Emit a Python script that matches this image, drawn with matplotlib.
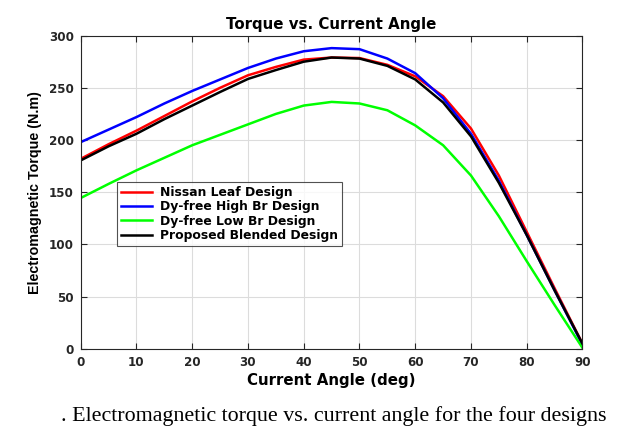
import matplotlib
matplotlib.use("Agg")
import matplotlib.pyplot as plt

# current angle in degrees, torque in N.m
angle = [0, 5, 10, 15, 20, 25, 30, 35, 40, 45, 50, 55, 60, 65, 70, 75, 80, 85, 90]
nissan_leaf = [182, 196, 209, 223, 237, 250, 262, 270, 277, 279, 278.5, 272, 261, 242, 211, 166, 112, 58, 5]
high_br = [198, 210, 222, 235, 247, 258, 269, 278, 285, 288, 287, 278, 264, 240, 206, 161, 109, 56, 4]
low_br = [144.5, 158, 171, 183, 195, 205, 215, 225, 233, 236.5, 235, 228.5, 214, 195, 166, 127, 84, 42, 1]
blended = [180.5, 194, 206, 220, 233, 246, 258.5, 267, 275, 279, 278, 271, 258, 236, 203.5, 159, 109, 56, 5]

labels = ["Nissan Leaf Design", "Dy-free High Br Design",
          "Dy-free Low Br Design", "Proposed Blended Design"]
colors = ["#ff0000", "#0000ff", "#00ff00", "#000000"]

plt.rcParams["font.family"] = ["DejaVu Sans"]
plt.rcParams["font.weight"] = "bold"

fig = plt.figure(figsize=(6.21, 4.34), dpi=100)
ax = fig.add_axes([0.130, 0.196, 0.808, 0.722])

for series, label, color in zip([nissan_leaf, high_br, low_br, blended], labels, colors):
    ax.plot(angle, series, color=color, lw=1.8, label=label)

ax.set_xlim(0, 90)
ax.set_ylim(0, 300)
ax.set_xticks(range(0, 91, 10))
ax.set_yticks(range(0, 301, 50))
ax.grid(True, color="#dcdcdc", lw=0.8)
ax.set_axisbelow(True)
ax.tick_params(direction="in", top=True, right=True, length=4, width=0.8,
               labelsize=8.6, colors="#262626", pad=5)
for lbl in ax.get_xticklabels() + ax.get_yticklabels():
    lbl.set_fontweight("bold")
for sp in ax.spines.values():
    sp.set_color("#262626")
    sp.set_linewidth(0.8)

ax.set_title("Torque vs. Current Angle", fontsize=10.8, fontweight="bold", pad=5)
ax.set_xlabel("Current Angle (deg)", fontsize=10.8, fontweight="bold", labelpad=3)
ax.set_ylabel("Electromagnetic Torque (N.m)", fontsize=10.3, fontweight="bold",
              family=["Liberation Sans", "DejaVu Sans"], labelpad=5)

leg = ax.legend(loc="upper left", bbox_to_anchor=(0.072, 0.533), fontsize=8.9,
                frameon=True, fancybox=False, edgecolor="#262626",
                handlelength=2.5, handletextpad=0.6, labelspacing=0.1,
                borderpad=0.35, borderaxespad=0)
leg.get_frame().set_linewidth(0.8)
for t in leg.get_texts():
    t.set_fontweight("bold")

fig.text(0.098, 0.029, ". Electromagnetic torque vs. current angle for the four designs",
         fontsize=15.8, family=["Liberation Serif", "DejaVu Serif"],
         fontweight="normal", ha="left", va="baseline")

fig.savefig("out.png", dpi=100)
